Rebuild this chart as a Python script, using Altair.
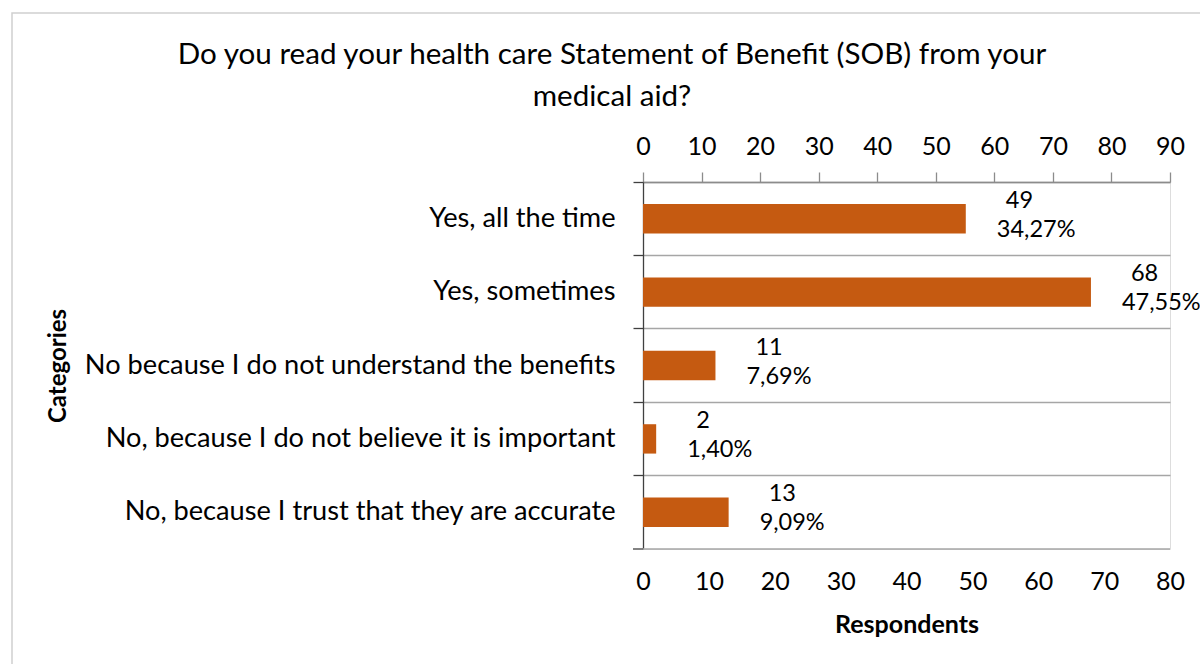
import altair as alt
import pandas as pd

title_lines = [
    "Do you read your health care Statement of Benefit (SOB) from your",
    "medical aid?",
]
categories = [
    "Yes, all the time",
    "Yes, sometimes",
    "No because I do not understand the benefits",
    "No, because I do not believe it is important",
    "No, because I trust that they are accurate",
]
counts = [49, 68, 11, 2, 13]
percents = ["34,27%", "47,55%", "7,69%", "1,40%", "9,09%"]
bottom_ticks = [0, 10, 20, 30, 40, 50, 60, 70, 80]
top_ticks = [0, 10, 20, 30, 40, 50, 60, 70, 80, 90]

df = pd.DataFrame({"category": categories, "count": counts, "pct": percents})
df["count_label"] = df["count"].astype(str)
one = pd.DataFrame({"k": [0]})

FONT = "Lato"
W, H = 527, 367
L, T = 643, 182

xscale = alt.Scale(domain=[0, 80], nice=False)
yscale = alt.Scale(paddingInner=0, paddingOuter=0)

y_enc = alt.Y(
    "category:N",
    sort=categories,
    scale=yscale,
    axis=alt.Axis(
        title="Categories",
        titleFont=FONT, titleFontSize=24, titleFontWeight="bold", titleColor="black",
        titleX=58 - L, titleY=H / 2, titleBaseline="middle", titleAngle=270,
        labelFont=FONT, labelFontSize=27.2, labelColor="black", labelPadding=18,
        labelLimit=700,
        bandPosition=0, grid=True, gridColor="#a6a6a6", gridWidth=1.3,
        ticks=True, tickSize=10, tickColor="#404040", tickWidth=1.3,
        domain=True, domainColor="#404040", domainWidth=1.3,
    ),
)

bars = alt.Chart(df).mark_bar(color="#C55A11", height={"band": 0.4}).encode(
    x=alt.X(
        "count:Q",
        scale=xscale,
        axis=alt.Axis(
            title="Respondents", orient="bottom",
            titleFont=FONT, titleFontSize=25, titleFontWeight="bold", titleColor="black",
            titlePadding=18,
            labelFont=FONT, labelFontSize=25, labelColor="black", labelPadding=20,
            labelFlush=False, labelOverlap=False,
            values=bottom_ticks,
            domain=False, ticks=False, grid=False,
        ),
    ),
    y=y_enc,
)

count_text = alt.Chart(df).mark_text(
    font=FONT, fontSize=23.5, color="black", align="left", baseline="middle",
    dx=40, dy=-18,
).encode(
    x=alt.X("count:Q", scale=xscale),
    y=alt.Y("category:N", sort=categories),
    text="count_label:N",
)

pct_text = alt.Chart(df).mark_text(
    font=FONT, fontSize=23.5, color="black", align="left", baseline="middle",
    dx=31, dy=11,
).encode(
    x=alt.X("count:Q", scale=xscale),
    y=alt.Y("category:N", sort=categories),
    text="pct:N",
)

bottom_rule = alt.Chart(one).mark_rule(color="#a6a6a6", strokeWidth=1.3).encode(
    x=alt.value(0), x2=alt.value(W), y=alt.value(H)
)
bottom_tick = alt.Chart(one).mark_rule(color="#404040", strokeWidth=1.3).encode(
    x=alt.value(-10), x2=alt.value(0), y=alt.value(H)
)
border = alt.Chart(one).mark_rect(filled=False, stroke="#d0d0d0", strokeWidth=1.5).encode(
    x=alt.value(12 - L), x2=alt.value(1200 - L + 20),
    y=alt.value(13 - T), y2=alt.value(664 - T + 20),
)

title1 = alt.Chart(one).mark_text(
    font=FONT, fontSize=29.6, fontWeight="normal", color="black", align="center", baseline="middle"
).encode(x=alt.value(612 - L), y=alt.value(55 - T), text=alt.value(title_lines[0]))
title2 = alt.Chart(one).mark_text(
    font=FONT, fontSize=29.6, fontWeight="normal", color="black", align="center", baseline="middle"
).encode(x=alt.value(612 - L), y=alt.value(97 - T), text=alt.value(title_lines[1]))

top_axis = alt.Chart(df).mark_point(opacity=0).encode(
    x=alt.X(
        "count:Q",
        scale=alt.Scale(domain=[0, 90], nice=False),
        axis=alt.Axis(
            title=None, orient="top",
            labelFont=FONT, labelFontSize=25, labelColor="black", labelPadding=13,
            labelFlush=False, labelOverlap=False,
            values=top_ticks,
            domain=True, domainColor="#8c8c8c", domainWidth=1.3,
            ticks=True, tickColor="#8c8c8c", tickSize=10, tickWidth=1.3, grid=False,
        ),
    ),
    y=alt.Y("category:N", sort=categories),
)

main = alt.layer(border, title1, title2, bars, count_text, pct_text, bottom_rule, bottom_tick)

chart = alt.layer(main, top_axis).resolve_scale(x="independent").properties(
    width=W, height=H,
    autosize=alt.AutoSizeParams(type="none"),
    padding={"left": L, "top": T, "right": 1200 - L - W, "bottom": 664 - T - H},
).configure_view(stroke=None).configure(background="white")

chart.save("out.html", embed_options={"renderer": "svg", "actions": False})
